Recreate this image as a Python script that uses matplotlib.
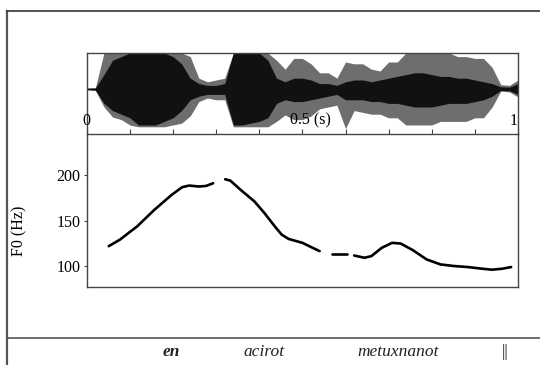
import numpy as np
import matplotlib
matplotlib.use("Agg")
import matplotlib.pyplot as plt
from matplotlib.lines import Line2D

plt.rcParams['font.family'] = ['Liberation Serif', 'DejaVu Serif']

# waveform envelope, read at 0.02 s steps (normalised amplitude)
wave_t = [i / 50 for i in range(51)]
peak_top = [0.03, 0.03, 1.0, 1.0, 1.0, 1.0, 1.0, 1.0, 1.0, 1.0,
            1.0, 1.0, 0.9, 0.3, 0.2, 0.25, 0.3, 1.0, 1.0, 1.0,
            1.0, 1.0, 0.8, 0.55, 0.85, 0.85, 0.7, 0.45, 0.45, 0.3,
            0.75, 0.7, 0.7, 0.55, 0.5, 0.75, 0.75, 1.0, 1.0, 1.0,
            1.0, 1.0, 1.0, 0.9, 0.9, 0.85, 0.85, 0.6, 0.12, 0.1, 0.25]
peak_bot = [-0.02, -0.04, -0.5, -0.78, -0.85, -1.0, -1.05, -1.05, -1.05, -1.05,
            -1.0, -0.95, -0.75, -0.35, -0.25, -0.3, -0.3, -1.05, -1.05, -1.05,
            -1.05, -1.05, -0.9, -0.72, -0.85, -0.85, -0.75, -0.55, -0.5, -0.45,
            -1.1, -0.6, -0.65, -0.7, -0.7, -0.8, -0.8, -1.0, -1.0, -1.0,
            -1.0, -0.9, -0.9, -0.9, -0.9, -0.8, -0.8, -0.5, -0.06, -0.08, -0.22]
core_top = [0.02, 0.03, 0.4, 0.8, 0.9, 1.0, 1.0, 1.0, 1.0, 1.0,
            0.9, 0.7, 0.3, 0.15, 0.1, 0.1, 0.15, 1.0, 1.0, 1.0,
            1.0, 0.8, 0.3, 0.2, 0.3, 0.3, 0.25, 0.15, 0.15, 0.1,
            0.2, 0.25, 0.25, 0.2, 0.25, 0.3, 0.35, 0.4, 0.45, 0.45,
            0.4, 0.35, 0.35, 0.3, 0.3, 0.25, 0.2, 0.15, 0.06, 0.05, 0.15]
core_bot = [-0.02, -0.03, -0.4, -0.6, -0.7, -0.8, -1.0, -1.0, -1.0, -0.9,
            -0.8, -0.6, -0.3, -0.2, -0.15, -0.15, -0.15, -1.0, -1.0, -0.95,
            -0.9, -0.8, -0.4, -0.3, -0.35, -0.35, -0.3, -0.25, -0.2, -0.15,
            -0.3, -0.3, -0.3, -0.35, -0.35, -0.4, -0.4, -0.45, -0.5, -0.5,
            -0.5, -0.45, -0.4, -0.4, -0.4, -0.35, -0.3, -0.2, -0.04, -0.05, -0.15]

# F0 track, four voiced stretches
f0_segments = [
    ([0.051, 0.077, 0.117, 0.157, 0.197, 0.221, 0.237, 0.261, 0.277, 0.293],
     [121.8, 129, 143.6, 161.8, 178.2, 186.5, 188.4, 187.3, 188, 190.9]),
    ([0.321, 0.333, 0.357, 0.389, 0.412, 0.436, 0.452, 0.468, 0.500, 0.516, 0.540],
     [195.3, 193.8, 183.6, 170.9, 158.2, 143.6, 134.5, 129.8, 125.5, 121.8, 116.4]),
    ([0.568, 0.604],
     [113.5, 113.5]),
    ([0.620, 0.644, 0.660, 0.684, 0.708, 0.728, 0.756, 0.788, 0.820, 0.852,
      0.884, 0.916, 0.940, 0.964, 0.984],
     [111.6, 109.1, 110.9, 120, 125.5, 124.7, 117.5, 107.3, 101.8, 100,
      98.9, 97.1, 96, 97.1, 98.9]),
]
f0_ticks = [100, 150, 200]
time_ticks = [i / 10 for i in range(11)]

words = ['en', 'acirot', 'metuxnanot', '||']
word_x = [0.317, 0.489, 0.737, 0.935]
word_style = [('italic', 'bold'), ('italic', 'normal'), ('italic', 'normal'), ('normal', 'normal')]

fig = plt.figure(figsize=(5.4, 3.65), dpi=100)

# outer frame lines (left, top, and the line above the transcription)
fig.add_artist(Line2D([0.013, 0.013], [0.97, 0.0], color='#555555', lw=1.6))
fig.add_artist(Line2D([0.013, 1.0], [0.97, 0.97], color='#333333', lw=1.2))
fig.add_artist(Line2D([0.013, 1.0], [0.074, 0.074], color='#555555', lw=1.2))

# waveform panel
ax1 = fig.add_axes([0.1606, 0.6329, 0.7987, 0.2219])
t = np.array(wave_t)
ax1.fill_between(t, peak_bot, peak_top, color='#6e6e6e', lw=0)
ax1.fill_between(t, core_bot, core_top, color='#111111', lw=0)
ax1.set_xlim(0, 1)
ax1.set_ylim(-1.25, 1)
ax1.set_xticks([])
ax1.set_yticks([])
ax1.spines['bottom'].set_visible(False)
for s in ['top', 'left', 'right']:
    ax1.spines[s].set_color('#444444')
    ax1.spines[s].set_linewidth(1.0)
lab_tr = ax1.get_xaxis_transform()
ax1.text(0.0, 0.117, '0', transform=lab_tr, ha='center', va='baseline', fontsize=11.5)
ax1.text(0.471, 0.117, '0.5 (s)', transform=lab_tr, ha='left', va='baseline', fontsize=11.5)
ax1.text(0.998, 0.117, '1', transform=lab_tr, ha='right', va='baseline', fontsize=11.5)

# F0 panel
ax2 = fig.add_axes([0.1606, 0.2137, 0.7987, 0.4192])
for xs, ys in f0_segments:
    ax2.plot(xs, ys, color='black', lw=1.9, solid_capstyle='round',
             solid_joinstyle='round')
ax2.set_xlim(0, 1)
ax2.set_ylim(77, 245)
ax2.set_yticks(f0_ticks)
ax2.set_xticks(time_ticks)
ax2.tick_params(axis='x', bottom=False, labelbottom=False, top=True,
                direction='out', length=3.8, width=0.8, color='#444444')
ax2.tick_params(axis='y', direction='out', length=2.5, width=0.8,
                color='#444444', labelsize=11.5, pad=2)
for s in ax2.spines.values():
    s.set_color('#444444')
    s.set_linewidth(1.0)
ax2.set_ylabel('F0 (Hz)', fontsize=11.5)
ax2.yaxis.set_label_coords(-0.137, 0.365)

# transcription
for w, x, (st, wt) in zip(words, word_x, word_style):
    fig.text(x, 0.036, w, ha='center', va='center', fontsize=12.5,
             style=st, weight=wt, color='#222222')

fig.savefig('out.png', dpi=100)
